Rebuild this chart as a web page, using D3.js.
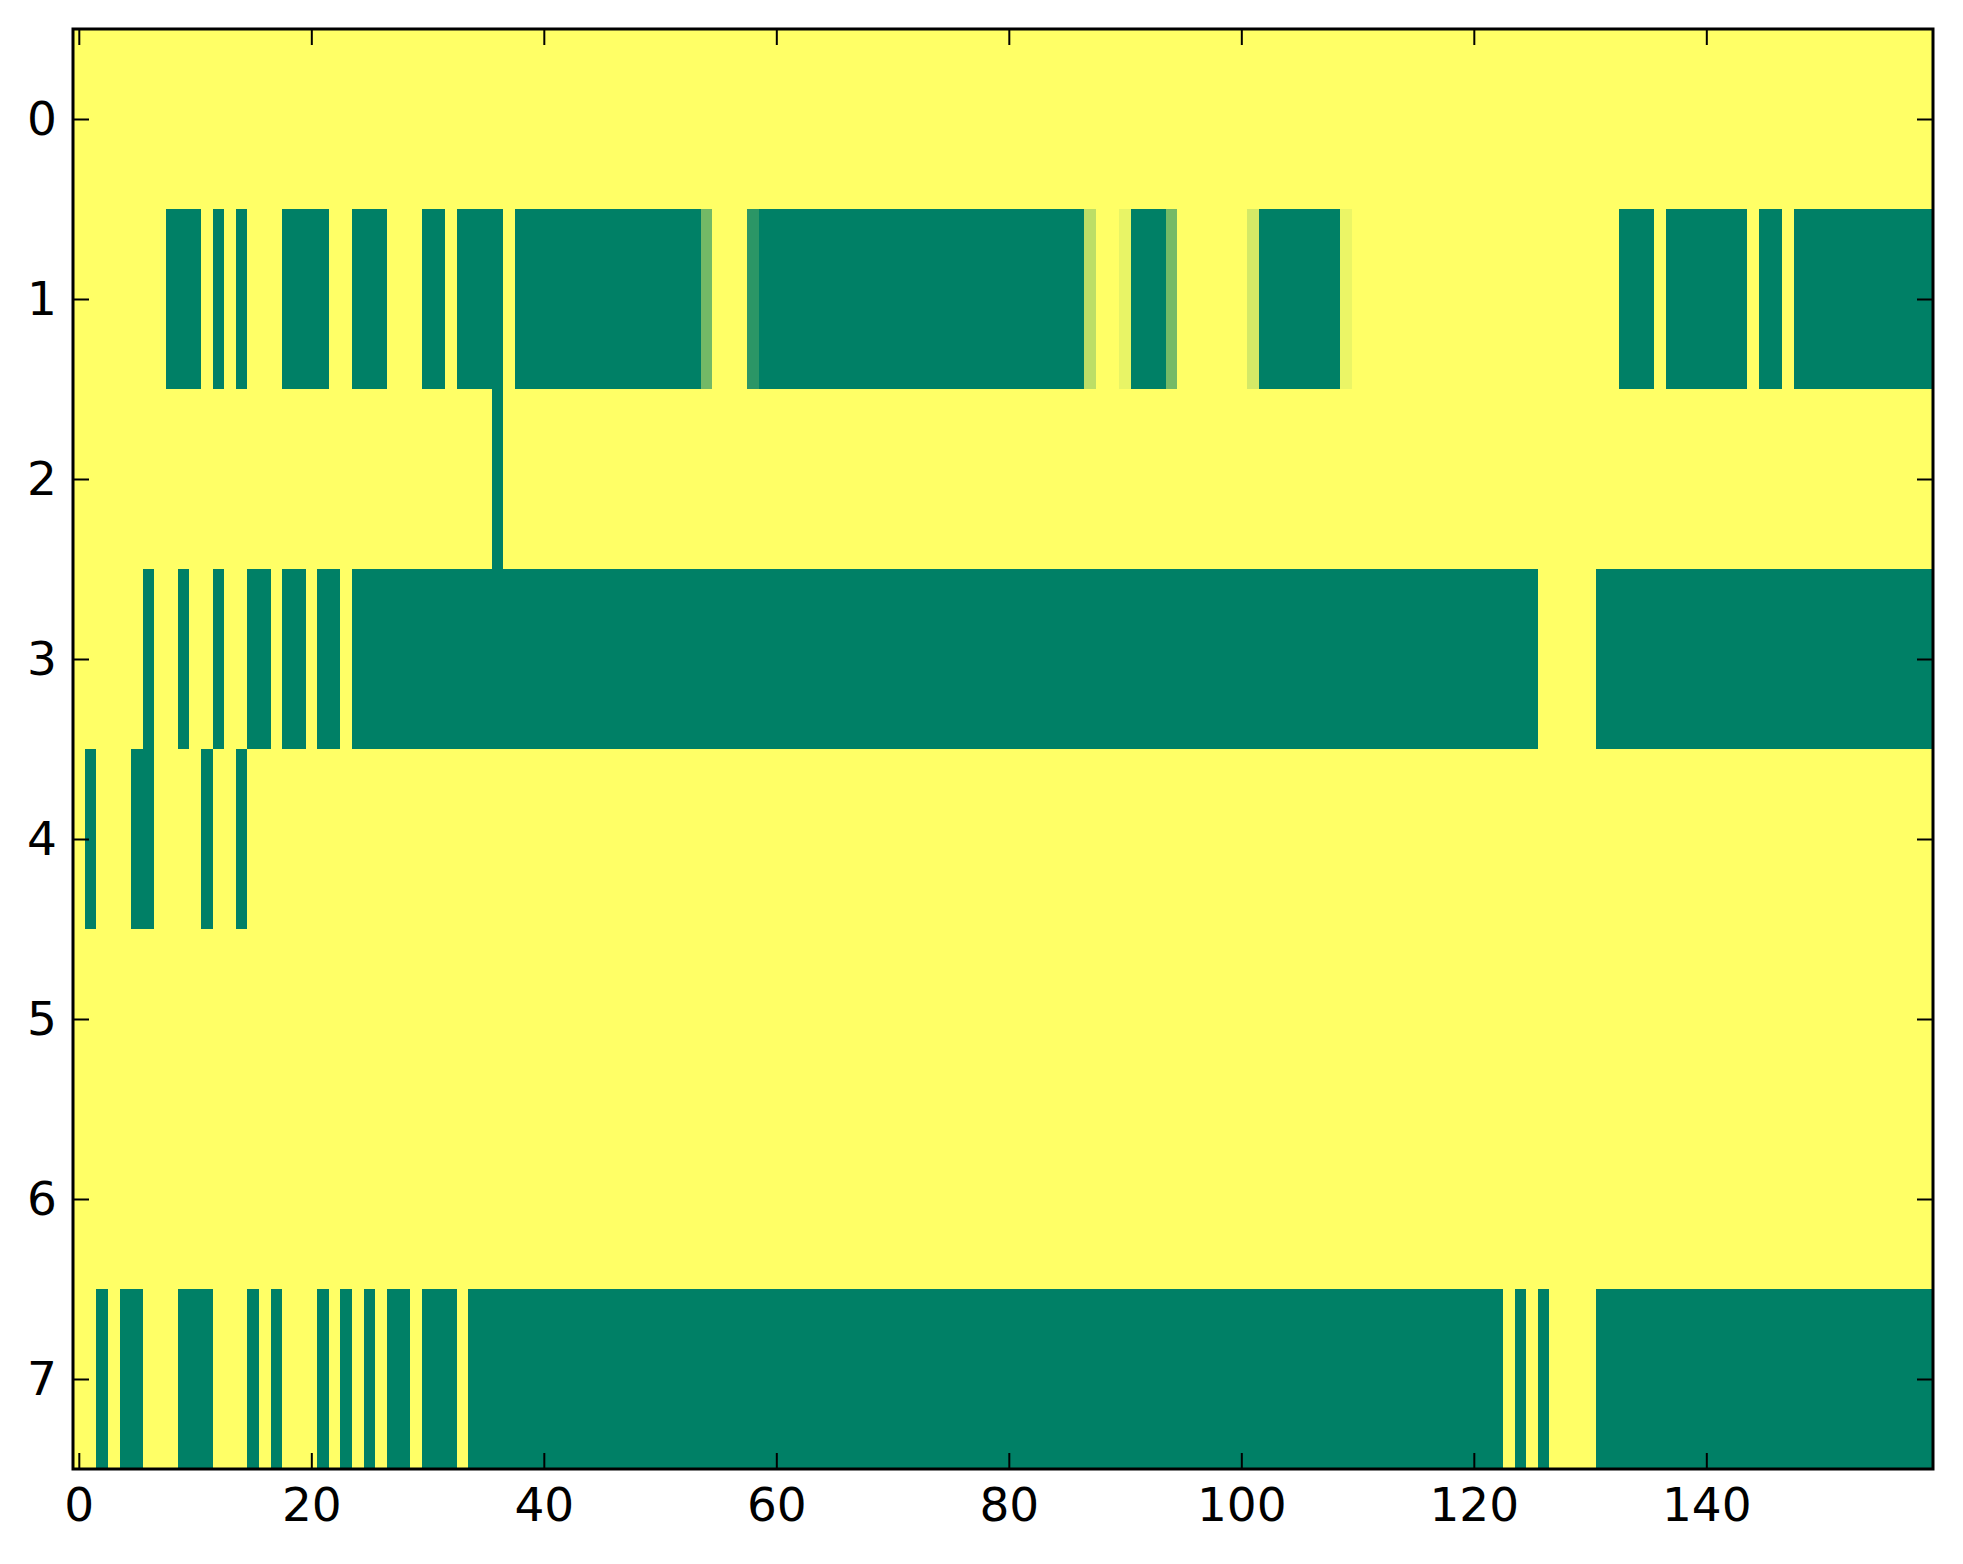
<!DOCTYPE html>
<html>
<head>
<meta charset="utf-8">
<script src="https://cdn.jsdelivr.net/npm/d3@7"></script>
<style>
  body { margin: 0; background: #fff; }
  .axis text { font-family: "DejaVu Sans", sans-serif; font-size: 47px; fill: #000; }
  .axis line { stroke: #000; stroke-width: 2px; }
  .axis path { display: none; }
</style>
</head>
<body>
<div class="chart"></div>
<script>
const nCols = 160;
const rowIds = [0, 1, 2, 3, 4, 5, 6, 7];
const xTicks = [0, 20, 40, 60, 80, 100, 120, 140];

// green (value 0) runs per row, inclusive column ranges
const row1Green = [[8, 10], [12, 12], [14, 14], [18, 21], [24, 26], [30, 31], [33, 36], [38, 53],
  [59, 86], [91, 93], [102, 108], [133, 135], [137, 143], [145, 146], [148, 159]];
const row2Green = [[36, 36]];
const row3Green = [[6, 6], [9, 9], [12, 12], [15, 16], [18, 19], [21, 22], [24, 125], [131, 159]];
const row4Green = [[1, 1], [5, 6], [11, 11], [14, 14]];
const row7Green = [[2, 2], [4, 5], [9, 11], [15, 15], [17, 17], [21, 21], [23, 23], [25, 25],
  [27, 28], [30, 32], [34, 122], [124, 124], [126, 126], [131, 159]];
const greenRuns = {1: row1Green, 2: row2Green, 3: row3Green, 4: row4Green, 7: row7Green};

// cells with in-between values: [row, col, value]
const partialCells = [[1, 54, 0.45], [1, 58, 0.17], [1, 87, 0.74], [1, 90, 0.91],
  [1, 94, 0.46], [1, 101, 0.83], [1, 109, 0.92]];

const width = 1963;
const height = 1564;
const margin = {top: 29, right: 30, bottom: 95, left: 73};
const tickLen = 16;

// build the matrix: everything 1 (yellow) unless listed
const cells = [];
const grid = rowIds.map(() => new Array(nCols).fill(1));
Object.keys(greenRuns).forEach(r => {
  greenRuns[r].forEach(([a, b]) => {
    for (let c = a; c <= b; c++) grid[r][c] = 0;
  });
});
partialCells.forEach(([r, c, v]) => { grid[r][c] = v; });
rowIds.forEach(r => grid[r].forEach((v, c) => cells.push({r, c, v})));

const xScale = d3.scaleLinear()
    .domain([-0.5, nCols - 0.5])
    .range([margin.left, width - margin.right]);

const yScale = d3.scaleLinear()
    .domain([-0.5, rowIds.length - 0.5])
    .range([margin.top, height - margin.bottom]);

// matplotlib "summer": linear from (0, .5, .4) to (1, 1, .4)
const color = d3.scaleLinear()
    .domain([0, 1])
    .range(['#008066', '#ffff66']);

const svg = d3.select('.chart').append('svg')
    .attr('width', width)
    .attr('height', height);

svg.append('g')
    .attr('class', 'cells')
  .selectAll('rect')
  .data(cells)
  .enter().append('rect')
    .attr('x', d => xScale(d.c - 0.5))
    .attr('y', d => yScale(d.r - 0.5))
    .attr('width', d => xScale(d.c + 0.5) - xScale(d.c - 0.5))
    .attr('height', d => yScale(d.r + 0.5) - yScale(d.r - 0.5))
    .attr('fill', d => color(d.v))
    .attr('shape-rendering', 'crispEdges');

const x0 = xScale.range()[0], x1 = xScale.range()[1];
const y0 = yScale.range()[0], y1 = yScale.range()[1];

svg.append('g')
    .attr('class', 'axis axis--x')
    .attr('transform', `translate(0,${y1})`)
    .call(d3.axisBottom(xScale).tickValues(xTicks).tickSizeInner(-tickLen).tickSizeOuter(0).tickPadding(19));

svg.append('g')
    .attr('class', 'axis axis--x2')
    .attr('transform', `translate(0,${y0})`)
    .call(d3.axisTop(xScale).tickValues(xTicks).tickSizeInner(-tickLen).tickSizeOuter(0).tickFormat(''));

svg.append('g')
    .attr('class', 'axis axis--y')
    .attr('transform', `translate(${x0},0)`)
    .call(d3.axisLeft(yScale).tickValues(rowIds).tickSizeInner(-tickLen).tickSizeOuter(0).tickPadding(16));

svg.append('g')
    .attr('class', 'axis axis--y2')
    .attr('transform', `translate(${x1},0)`)
    .call(d3.axisRight(yScale).tickValues(rowIds).tickSizeInner(-tickLen).tickSizeOuter(0).tickFormat(''));

svg.append('rect')
    .attr('x', x0)
    .attr('y', y0)
    .attr('width', x1 - x0)
    .attr('height', y1 - y0)
    .attr('fill', 'none')
    .attr('stroke', '#000')
    .attr('stroke-width', 3);
</script>
</body>
</html>
